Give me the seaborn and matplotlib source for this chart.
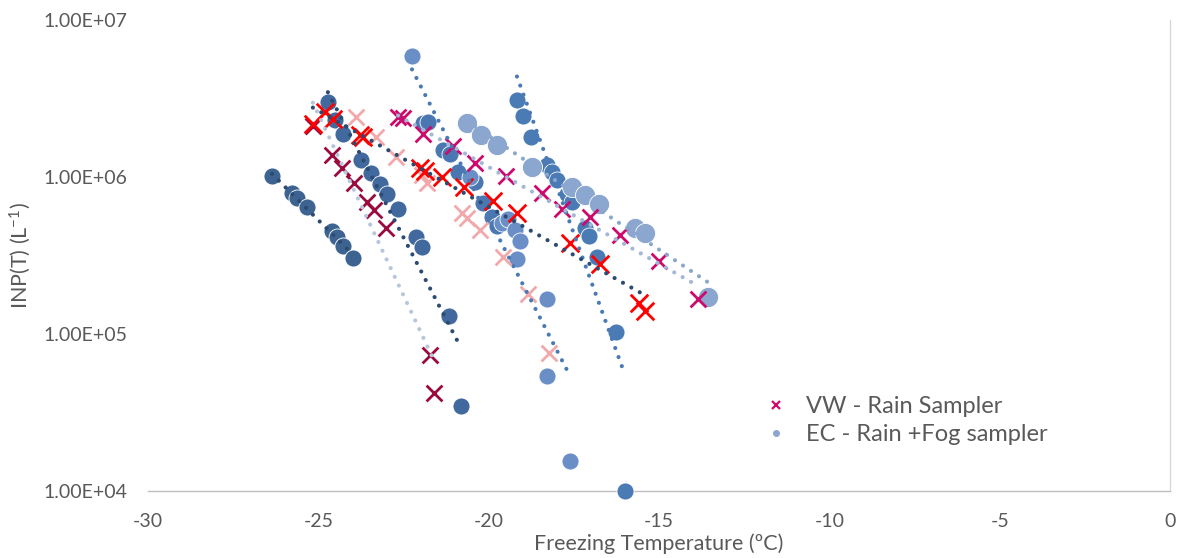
import numpy as np
import pandas as pd
import seaborn as sns
import matplotlib
matplotlib.use("Agg")
import matplotlib.pyplot as plt
from matplotlib.lines import Line2D
from matplotlib.ticker import FixedLocator, FuncFormatter, NullLocator

# ---------------- data ----------------
# EC - Rain + Fog sampler (circles)
ec_a_t = [-26.36, -25.77, -25.63, -25.33, -24.60, -24.45, -24.28, -23.98]
ec_a_inp = [1.01e6, 7.9e5, 7.3e5, 6.4e5, 4.5e5, 4.15e5, 3.65e5, 3.05e5]

ec_b_t = [-24.72, -24.51, -24.28, -23.75, -23.45, -23.19, -22.99, -22.66, -22.13, -21.96, -21.17, -20.81]
ec_b_inp = [3.0e6, 2.3e6, 1.88e6, 1.28e6, 1.06e6, 9.0e5, 7.8e5, 6.3e5, 4.15e5, 3.6e5, 1.3e5, 3.5e4]

ec_c_t = [-21.93, -21.78, -21.34, -21.14, -20.90, -20.40, -20.17, -19.90, -19.75]
ec_c_inp = [2.2e6, 2.25e6, 1.48e6, 1.41e6, 1.07e6, 9.3e5, 6.8e5, 5.6e5, 4.9e5]

ec_d_t = [-22.25, -20.55, -19.61, -19.43, -19.23, -19.08, -19.17, -18.29, -18.29, -17.61]
ec_d_inp = [5.9e6, 1.0e6, 5.1e5, 5.4e5, 4.6e5, 3.9e5, 3.0e5, 1.68e5, 5.4e4, 1.55e4]

ec_e_t = [-19.17, -18.99, -18.76, -18.29, -18.14, -18.00, -17.70, -17.55, -17.17, -17.06, -16.82, -16.26, -16.00]
ec_e_inp = [3.09e6, 2.45e6, 1.80e6, 1.19e6, 1.08e6, 9.6e5, 7.8e5, 6.9e5, 4.7e5, 4.2e5, 3.1e5, 1.03e5, 1.0e4]

ec_f_t = [-20.64, -20.23, -19.76, -18.73, -17.56, -17.17, -16.76, -15.71, -15.41, -13.56]
ec_f_inp = [2.21e6, 1.85e6, 1.60e6, 1.16e6, 8.6e5, 7.7e5, 6.7e5, 4.7e5, 4.4e5, 1.72e5]

# VW - Rain sampler (crosses)
vw_red_t = [-25.16, -24.80, -24.57, -23.78, -23.69, -22.02, -21.87, -21.37, -20.73, -19.87, -19.17, -17.61, -16.73, -15.59, -15.41]
vw_red_inp = [2.18e6, 2.6e6, 2.34e6, 1.85e6, 1.80e6, 1.14e6, 1.09e6, 1.0e6, 8.6e5, 7.0e5, 5.9e5, 3.8e5, 2.8e5, 1.57e5, 1.40e5]

vw_dark_t = [-25.16, -24.60, -24.31, -23.95, -23.57, -23.37, -23.01, -21.72, -21.61]
vw_dark_inp = [2.1e6, 1.38e6, 1.14e6, 9.2e5, 6.9e5, 6.2e5, 4.7e5, 7.3e4, 4.2e4]

vw_pink_t = [-23.90, -23.31, -22.72, -21.96, -21.81, -20.78, -20.64, -20.26, -19.58, -18.85, -18.23]
vw_pink_inp = [2.41e6, 1.80e6, 1.34e6, 1.03e6, 9.2e5, 5.9e5, 5.5e5, 4.6e5, 3.1e5, 1.8e5, 7.6e4]

vw_mag_t = [-22.66, -22.52, -21.93, -21.05, -20.40, -19.49, -18.44, -17.85, -17.03, -16.15, -15.00, -13.86]
vw_mag_inp = [2.41e6, 2.38e6, 1.88e6, 1.57e6, 1.23e6, 1.01e6, 7.9e5, 6.3e5, 5.6e5, 4.3e5, 2.9e5, 1.67e5]

x_ticks = [-30, -25, -20, -15, -10, -5, 0]
y_ticks = [1e4, 1e5, 1e6, 1e7]
legend_labels = ["VW - Rain Sampler", "EC - Rain +Fog sampler"]

# ---------------- styling ----------------
sns.set_theme(style="white")
plt.rcParams["font.family"] = ["Lato", "DejaVu Sans"]
plt.rcParams["mathtext.fontset"] = "custom"
plt.rcParams["mathtext.rm"] = "Lato"
plt.rcParams["mathtext.it"] = "Lato:italic"
plt.rcParams["mathtext.bf"] = "Lato:bold"

TXT = "#595959"

fig = plt.figure(figsize=(11.9, 5.58), dpi=100)
ax = fig.add_axes([148 / 1190, 1 - 491 / 558, 1022 / 1190, 471 / 558])
ax.set_yscale("log")

# (T, INP, marker colour, size)
circle_series = [
    (ec_a_t, ec_a_inp, "#3d6391", 150),
    (ec_b_t, ec_b_inp, "#41699d", 150),
    (ec_c_t, ec_c_inp, "#4a77b1", 150),
    (ec_d_t, ec_d_inp, "#6a8fc6", 150),
    (ec_e_t, ec_e_inp, "#4a7bb5", 150),
    (ec_f_t, ec_f_inp, "#8ba6cf", 210),
]
cross_series = [
    (vw_dark_t, vw_dark_inp, "#9b0a3c", 130),
    (vw_pink_t, vw_pink_inp, "#f2a9ab", 130),
    (vw_mag_t, vw_mag_inp, "#cc0a6e", 130),
    (vw_red_t, vw_red_inp, "#ff0000", 160),
]

# trend lines: (T, INP, line colour)
trend_specs = [
    (ec_a_t, ec_a_inp, "#2c4b72"),
    (ec_b_t, ec_b_inp, "#2c4b72"),
    (ec_c_t + ec_d_t, ec_c_inp + ec_d_inp, "#4a7ab5"),
    (ec_e_t, ec_e_inp, "#4a7ab5"),
    (ec_f_t, ec_f_inp, "#8ba6cf"),
    (vw_dark_t, vw_dark_inp, "#b8c6dc"),
    (vw_mag_t, vw_mag_inp, "#a3b7d6"),
    (vw_red_t, vw_red_inp, "#2c4b72"),
]

for t, v, col, s in circle_series:
    sns.scatterplot(x=t, y=v, ax=ax, color=col, s=s, marker="o",
                    edgecolor="white", linewidth=0.6, clip_on=False, zorder=3)
for t, v, col, s in cross_series:
    sns.scatterplot(x=t, y=v, ax=ax, color=col, s=s, marker="x",
                    linewidth=2.0, clip_on=False, zorder=4)

# exponential trend lines (fit of log10(INP) against T over each series' range)
for t, v, tcol in trend_specs:
    t = np.asarray(t, float)
    lv = np.log10(np.asarray(v, float))
    b, a = np.polyfit(t, lv, 1)
    xs = np.linspace(t.min(), t.max(), 60)
    ys = 10 ** (a + b * xs)
    sns.lineplot(x=xs, y=ys, ax=ax, color=tcol, linewidth=3.0,
                 linestyle=(0, (0.01, 2.3)), dash_capstyle="round",
                 zorder=5, clip_on=False)

ax.set_xlim(-30, 0)
ax.set_ylim(1e4, 1e7)
ax.xaxis.set_major_locator(FixedLocator(x_ticks))
ax.yaxis.set_major_locator(FixedLocator(y_ticks))
ax.yaxis.set_minor_locator(NullLocator())
ax.yaxis.set_major_formatter(FuncFormatter(lambda v, p: f"{v:.2E}"))
ax.xaxis.set_major_formatter(FuncFormatter(lambda v, p: f"{int(v)}"))
ax.tick_params(axis="both", length=0, labelsize=14, colors=TXT)
ax.tick_params(axis="x", pad=16)
ax.tick_params(axis="y", pad=15)

for side in ["top", "left"]:
    ax.spines[side].set_visible(False)
ax.spines["right"].set_color("#d9d9d9")
ax.spines["right"].set_linewidth(1.0)
ax.spines["bottom"].set_color("#bfbfbf")
ax.spines["bottom"].set_linewidth(1.0)
ax.grid(False)
ax.set_facecolor("white")

ax.set_xlabel("Freezing Temperature (\u00baC)", fontsize=15.5, color=TXT)
ax.set_ylabel("INP(T) (L$^{\\mathregular{-1}}$)", fontsize=15.5, color=TXT)
ax.xaxis.set_label_coords(0.5, -0.09)
ax.yaxis.set_label_coords(-0.113, 0.5)

handles = [
    Line2D([], [], marker="x", color="#cc0a6e", linestyle="none", markersize=6, mew=1.6),
    Line2D([], [], marker="o", color="#8ba6cf", linestyle="none", markersize=4),
]
leg = ax.legend(handles, legend_labels, loc="upper left",
                bbox_to_anchor=(752 / 1190, 1 - 396 / 558), bbox_transform=fig.transFigure,
                frameon=False, fontsize=17, labelspacing=0.3, handletextpad=0.3,
                borderaxespad=0, borderpad=0)
for txt in leg.get_texts():
    txt.set_color(TXT)

fig.savefig("out.png", dpi=100, facecolor="white")
